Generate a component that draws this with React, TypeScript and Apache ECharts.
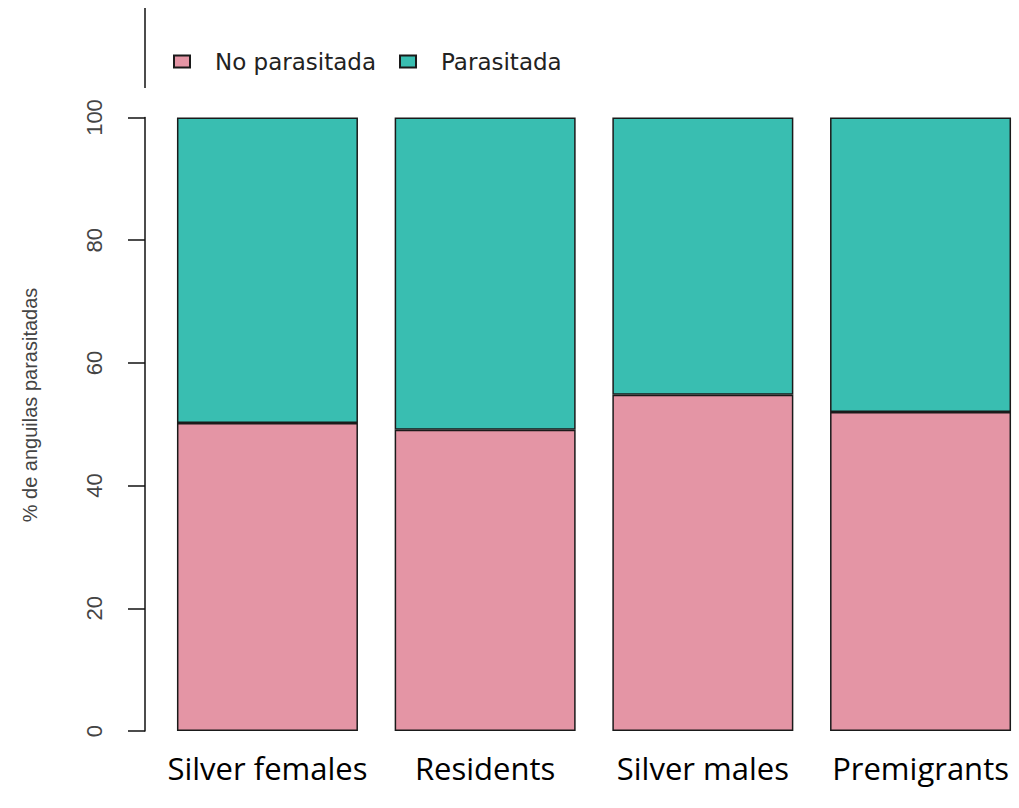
import React, { useEffect, useRef } from "react";
import * as echarts from "echarts";

const categories = ["Silver females", "Residents", "Silver males", "Premigrants"];
const noParasitada = [50.2, 49.1, 54.8, 52.0];
const parasitada = [49.8, 50.9, 45.2, 48.0];
const yTicks = [0, 20, 40, 60, 80, 100];
const seriesNames = ["No parasitada", "Parasitada"];
const colors = ["#E495A5", "#39BEB1"];
const yTitle = "% de anguilas parasitadas";

export default function App() {
  const ref = useRef<HTMLDivElement>(null);
  useEffect(() => {
    if (!ref.current) return;
    const chart = echarts.init(ref.current, null, { renderer: "svg" });
    chart.setOption({
      animation: false,
      backgroundColor: "#ffffff",
      grid: { left: 158.6, top: 117.5, width: 870.8, bottom: 77, containLabel: false },
      legend: {
        left: 168,
        top: 45,
        data: seriesNames,
        icon: "rect",
        itemWidth: 16,
        itemHeight: 12,
        itemGap: 23,
        textStyle: { fontFamily: "DejaVu Sans", fontSize: 23, color: "#222", padding: [0, 0, 0, 20] },
      },
      xAxis: {
        type: "category",
        data: categories,
        axisLine: { show: false },
        axisTick: { show: false },
        axisLabel: { fontFamily: "Open Sans", fontSize: 31, color: "#000", margin: 21, interval: 0 },
      },
      yAxis: {
        type: "value",
        min: 0,
        max: 100,
        interval: 20,
        offset: 13.6,
        splitLine: { show: false },
        axisLine: { show: true, lineStyle: { color: "#111", width: 1.5 } },
        axisTick: { show: true, length: 17, lineStyle: { color: "#111", width: 1.5 } },
        axisLabel: {
          rotate: 90,
          margin: 40,
          fontFamily: "Liberation Sans",
          fontSize: 22,
          color: "#444",
          formatter: (v: number) => (yTicks.includes(v) ? String(v) : ""),
        },
      },
      series: [
        {
          name: seriesNames[0],
          type: "bar",
          stack: "total",
          barWidth: 181,
          data: noParasitada,
          itemStyle: { color: colors[0], borderColor: "#1a1a1a", borderWidth: 1.5 },
        },
        {
          name: seriesNames[1],
          type: "bar",
          stack: "total",
          barWidth: 181,
          data: parasitada,
          itemStyle: { color: colors[1], borderColor: "#1a1a1a", borderWidth: 1.5 },
        },
      ],
      graphic: [
        {
          type: "line",
          shape: { x1: 145, y1: 8, x2: 145, y2: 88 },
          style: { stroke: "#111", lineWidth: 1.5 },
        },
        {
          type: "text",
          x: 30,
          y: 405,
          rotation: Math.PI / 2,
          style: {
            text: yTitle,
            fontFamily: "Liberation Sans",
            fontSize: 20,
            fill: "#444",
            align: "center",
            verticalAlign: "middle",
          },
        },
      ],
    });
    return () => chart.dispose();
  }, []);
  return (
    <div style={{ position: "absolute", left: 0, top: 0, width: 1019, height: 808, overflow: "hidden" }}>
      <div ref={ref} style={{ position: "absolute", left: 0, top: 0, width: 1040, height: 808 }} />
    </div>
  );
}
